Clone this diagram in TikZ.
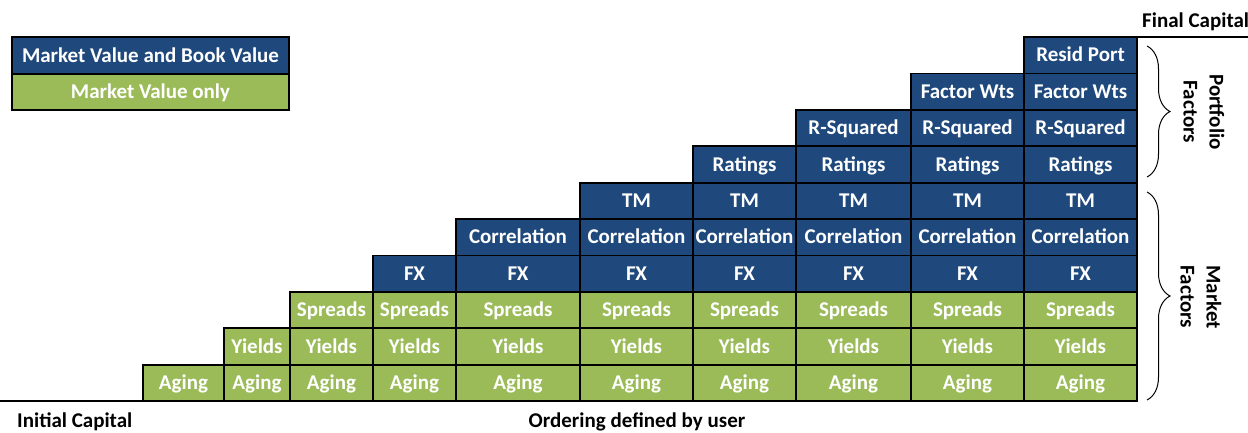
\documentclass[tikz,border=0pt]{standalone}
\usepackage{fontspec}
\setmainfont{Carlito}
\usetikzlibrary{decorations.pathreplacing}
\definecolor{mvbv}{HTML}{1F497D}
\definecolor{mvonly}{HTML}{9BBB59}
\begin{document}
\begin{tikzpicture}[x=1pt,y=-1pt,
  font=\fontsize{21}{26}\selectfont\bfseries,
  cell/.style={draw=black, line width=1.8pt, text=white, inner sep=0pt,
    outer sep=0pt, text height=13.5pt, text depth=0pt},
  bluecell/.style={cell, fill=mvbv},
  greencell/.style={cell, fill=mvonly},
  caption/.style={text=black, inner sep=0pt, text height=13.5pt, text depth=0pt},
  sidetext/.style={text=black, inner sep=0pt, align=center, rotate=-90},
  bracket/.style={decorate, decoration={brace, amplitude=23pt}, line width=1pt},
  rule/.style={line width=1.8pt}
]
\useasboundingbox (0,0) rectangle (1248,432);

% column edges of the staircase
\def\colx{{143,224,290,373,456,580,693,796,911,1024,1137}}

% staircase: row r fills columns r..10
\foreach \r/\lab/\sty in {1/Aging/greencell, 2/Yields/greencell, 3/Spreads/greencell,
    4/FX/bluecell, 5/Correlation/bluecell, 6/TM/bluecell, 7/Ratings/bluecell,
    8/R-Squared/bluecell, 9/Factor Wts/bluecell, 10/Resid Port/bluecell} {
  \foreach \c in {\r,...,10} {
    \pgfmathsetmacro\xl{\colx[\c-1]}
    \pgfmathsetmacro\xr{\colx[\c]}
    \pgfmathsetmacro\w{\xr-\xl}
    \pgfmathsetmacro\xm{(\xl+\xr)/2}
    \pgfmathsetmacro\ym{401-(\r-0.5)*36.4}
    \node[\sty, minimum width=\w pt, minimum height=36.4pt] (c\c r\r) at (\xm,\ym) {\lab};
  }
}

% legend
\node[bluecell, minimum width=277pt, minimum height=36.4pt] (legbv) at (150.5,55.5) {Market Value and Book Value};
\node[greencell, minimum width=277pt, minimum height=36.4pt, anchor=north] (legmv) at (legbv.south) {Market Value only};

% capital lines
\coordinate (botstart) at (0,401);
\coordinate (topend) at (1248,37);
\draw[rule] (botstart) -- (c10r1.south east);
\draw[rule] (c10r10.north west) -- (topend);

% captions
\node[caption, anchor=west] (initcap) at (17,421) {Initial Capital};
\node[caption] (order) at (637,421) {Ordering defined by user};
\node[caption, anchor=west] (finalcap) at (1142,21) {Final Capital};

% factor groups
\draw[bracket] (1147,46) -- (1147,177);
\draw[bracket] (1147,192) -- (1147,400);
\node[sidetext] (portf) at (1204,112) {Portfolio\\Factors};
\node[sidetext] (markf) at (1201,297) {Market\\Factors};
\end{tikzpicture}
\end{document}
